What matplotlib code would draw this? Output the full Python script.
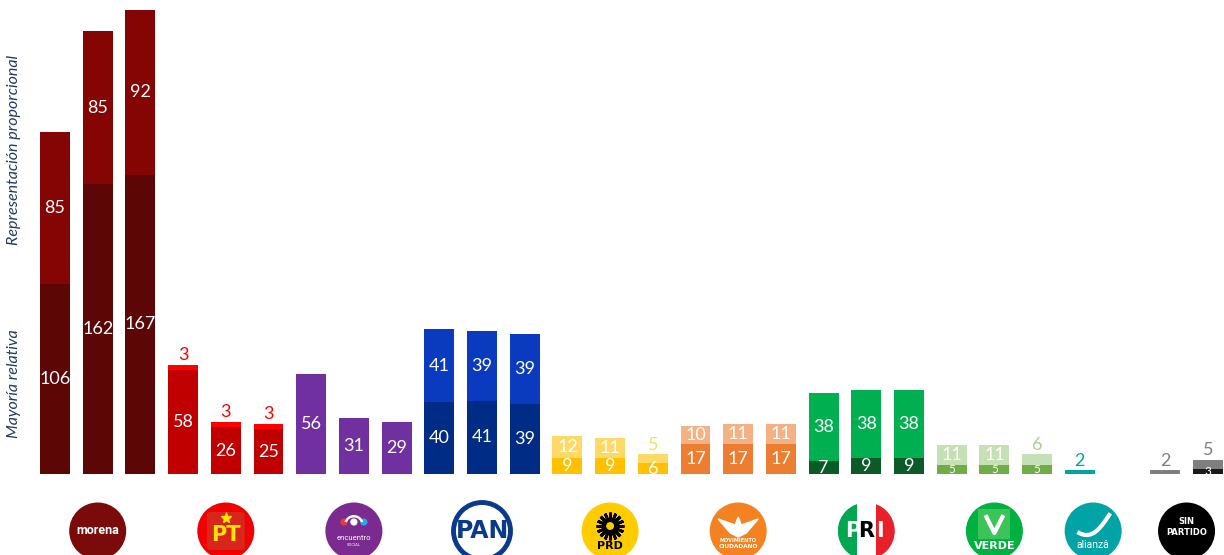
import matplotlib
matplotlib.use("Agg")
import matplotlib.pyplot as plt
from matplotlib.patches import Circle, Rectangle, FancyBboxPatch, Wedge
import numpy as np

# ---------------- data ----------------
parties = ["morena", "PT", "encuentro", "PAN", "PRD", "MC", "PRI", "VERDE", "alianza", "SIN PARTIDO"]
slots_per_party = [3, 3, 3, 3, 3, 3, 3, 3, 2, 2]

mayoria = [
    [106, 162, 167],
    [58, 26, 25],
    [56, 31, 29],
    [40, 41, 39],
    [9, 9, 6],
    [17, 17, 17],
    [7, 9, 9],
    [5, 5, 5],
    [0, 0],
    [0, 3],
]
representacion = [
    [85, 85, 92],
    [3, 3, 3],
    [0, 0, 0],
    [41, 39, 39],
    [12, 11, 5],
    [10, 11, 11],
    [38, 38, 38],
    [11, 11, 6],
    [2, 0],
    [2, 5],
]

mr_colors = ["#5C0606", "#C00000", "#7030A0", "#002C85", "#FFC000", "#ED7D31",
             "#0B5A28", "#70AD47", "#00A3A1", "#1A1A1A"]
rp_colors = ["#850404", "#FF0000", "#7030A0", "#0A3BBE", "#FFD966", "#F4B183",
             "#00B050", "#C5E0B4", "#00A3A1", "#7F7F7F"]
rp_out_colors = ["#850404", "#FF0000", "#7030A0", "#0A3BBE", "#FFD966", "#F4B183",
                 "#00B050", "#A9D18E", "#00A3A1", "#7F7F7F"]

# ---------------- figure ----------------
W, H = 1224, 555
fig = plt.figure(figsize=(W / 100, H / 100), dpi=100)
base_frac = (H - 474) / H
ax = fig.add_axes([0, base_frac, 1, 1 - base_frac])
slot_w = 42.7
ax.set_xlim(-55 / slot_w, (W - 55) / slot_w)
ax.set_ylim(0, 474 / 1.7915)
ax.axis("off")

FONT = "Lato"
bar_w = 0.7
pos = 0
group_centers = []
for p, n in enumerate(slots_per_party):
    xs = np.arange(pos, pos + n)
    group_centers.append(xs.mean())
    pos += n
    mr = np.array(mayoria[p])
    rp = np.array(representacion[p])
    ax.bar(xs, mr, bar_w, color=mr_colors[p], linewidth=0)
    ax.bar(xs, rp, bar_w, bottom=mr, color=rp_colors[p], linewidth=0)
    for x, m, r in zip(xs, mr, rp):
        if m > 0:
            fs = 8.5 if m <= 5 else 13
            ax.text(x, m / 2, str(m), ha="center", va="center", color="white",
                    fontsize=fs, family=FONT, clip_on=True)
        if r > 0:
            if r >= 10:
                ax.text(x, m + r / 2, str(r), ha="center", va="center", color="white",
                        fontsize=13, family=FONT, clip_on=True)
            else:
                ax.text(x, m + r + 1, str(r), ha="center", va="bottom",
                        color=rp_out_colors[p], fontsize=13, family=FONT, clip_on=True)

# axis titles
fig.text(14 / W, 1 - 150 / H, "Representación proporcional", rotation=90, ha="center",
         va="center", style="italic", color="#1F3864", fontsize=11.5, family=FONT)
fig.text(14 / W, 1 - 384 / H, "Mayoría relativa", rotation=90, ha="center",
         va="center", style="italic", color="#1F3864", fontsize=11.5, family=FONT)

# ---------------- logos ----------------
lax = fig.add_axes([0, 0, 1, 1])
lax.set_xlim(0, W)
lax.set_ylim(H, 0)
lax.axis("off")

fig.canvas.draw()
logo_x = []
for gc in group_centers:
    px = ax.transData.transform((gc, 0))[0]
    logo_x.append(px)
logo_x[8] -= 8
logo_y = 531
R = 28.5

def circ(cx, fc, ec="none", lw=0):
    c = Circle((cx, logo_y), R, fc=fc, ec=ec, lw=lw, zorder=2)
    lax.add_patch(c)
    return c

# morena
cx = logo_x[0]
circ(cx, "#7B0A0A")
lax.text(cx, logo_y, "morena", color="white", ha="center", va="center",
         fontsize=9, fontweight="bold", family="Roboto", zorder=3)
# PT
cx = logo_x[1]
circ(cx, "#F00000")
lax.add_patch(FancyBboxPatch((cx - 19, logo_y - 19), 38, 38, boxstyle="round,pad=0,rounding_size=4",
                             fc="#D9261C", ec="none", zorder=3))
lax.text(cx, logo_y + 4, "PT", color="#FFE600", ha="center", va="center",
         fontsize=15, fontweight="bold", family="DejaVu Sans", zorder=4)
lax.plot([cx], [logo_y - 13], marker="*", color="#FFE600", markersize=8, zorder=4)
# encuentro
cx = logo_x[2]
circ(cx, "#7B2A90")
for dx, col in [(-10, "#E53935"), (0, "white"), (10, "#29A9E1")]:
    lax.add_patch(Circle((cx + dx, logo_y - 9), 3.6, fc=col, ec="none", zorder=3))
lax.add_patch(Wedge((cx, logo_y - 6), 10, 200, 340, width=2.5, fc="white", ec="none", zorder=3))
lax.text(cx, logo_y + 7, "encuentro", color="white", ha="center", va="center",
         fontsize=5.5, family="Roboto", zorder=3)
lax.text(cx, logo_y + 14, "SOCIAL", color="white", ha="center", va="center",
         fontsize=3, family="Roboto", zorder=3)
# PAN
cx = logo_x[3]
circ(cx, "white", ec="#0A3A8C", lw=3.5)
lax.text(cx, logo_y, "PAN", color="#0A3A8C", ha="center", va="center",
         fontsize=17, fontweight="bold", family="Liberation Sans Narrow", zorder=3)
# PRD
cx = logo_x[4]
circ(cx, "#FFCC00")
lax.plot([cx], [logo_y - 5], marker=(16, 2, 0), color="black", markersize=20, mew=2, zorder=3)
lax.add_patch(Circle((cx, logo_y - 5), 5, fc="#FFCC00", ec="black", lw=1.5, zorder=4))
lax.text(cx, logo_y + 15, "PRD", color="black", ha="center", va="center",
         fontsize=8, fontweight="bold", family="DejaVu Sans", zorder=4)
# MC
cx = logo_x[5]
circ(cx, "#F58220")
lax.fill([cx - 20, cx - 3, cx, cx + 3, cx + 20, cx + 8, cx, cx - 8],
         [logo_y - 12, logo_y - 6, logo_y - 14, logo_y - 6, logo_y - 12, logo_y + 2, logo_y + 6, logo_y + 2],
         color="white", zorder=3)
lax.text(cx, logo_y + 10, "MOVIMIENTO", color="white", ha="center", va="center",
         fontsize=3.6, fontweight="bold", family="DejaVu Sans", zorder=3)
lax.text(cx, logo_y + 15, "CIUDADANO", color="white", ha="center", va="center",
         fontsize=4.2, fontweight="bold", family="DejaVu Sans", zorder=3)
# PRI
cx = logo_x[6]
clip = circ(cx, "white")
for dx, col in [(-R, "#00A650"), (-R / 3, "white"), (R / 3, "#E8202A")]:
    r = Rectangle((cx + dx, logo_y - R), 2 * R / 3, 2 * R, fc=col, ec="none", zorder=3)
    lax.add_patch(r)
    r.set_clip_path(clip)
for dx, ch, col in [(-14, "P", "white"), (0, "R", "black"), (14, "I", "white")]:
    lax.text(cx + dx, logo_y, ch, color=col, ha="center", va="center",
             fontsize=15, fontweight="bold", family="Liberation Sans Narrow", zorder=4)
# VERDE
cx = logo_x[7]
circ(cx, "#00B140")
lax.add_patch(Rectangle((cx - 16, logo_y - 22), 32, 30, fc="#3CC35A", ec="none", zorder=3))
lax.plot([cx - 8, cx, cx + 8], [logo_y - 14, logo_y + 2, logo_y - 14], color="white", lw=3, zorder=4)
lax.text(cx, logo_y + 15, "VERDE", color="white", ha="center", va="center",
         fontsize=8, fontweight="bold", family="DejaVu Sans", zorder=4)
# alianza
cx = logo_x[8]
circ(cx, "#00A3A6")
tt = np.linspace(0, 1, 30)
lax.plot(cx - 14 + 30 * tt, logo_y + 2 - 18 * tt ** 1.5 + 6 * np.sin(np.pi * tt), color="white", lw=3, zorder=3)
lax.text(cx, logo_y + 14, "alianzâ", color="white", ha="center", va="center",
         fontsize=7.5, family="Roboto", zorder=3)
# SIN PARTIDO
cx = logo_x[9]
circ(cx, "black")
lax.text(cx, logo_y - 4, "SIN\nPARTIDO", color="white", ha="center", va="center",
         fontsize=6, fontweight="bold", family="DejaVu Sans", linespacing=1.3, zorder=3)

fig.savefig("out.png", dpi=100)
